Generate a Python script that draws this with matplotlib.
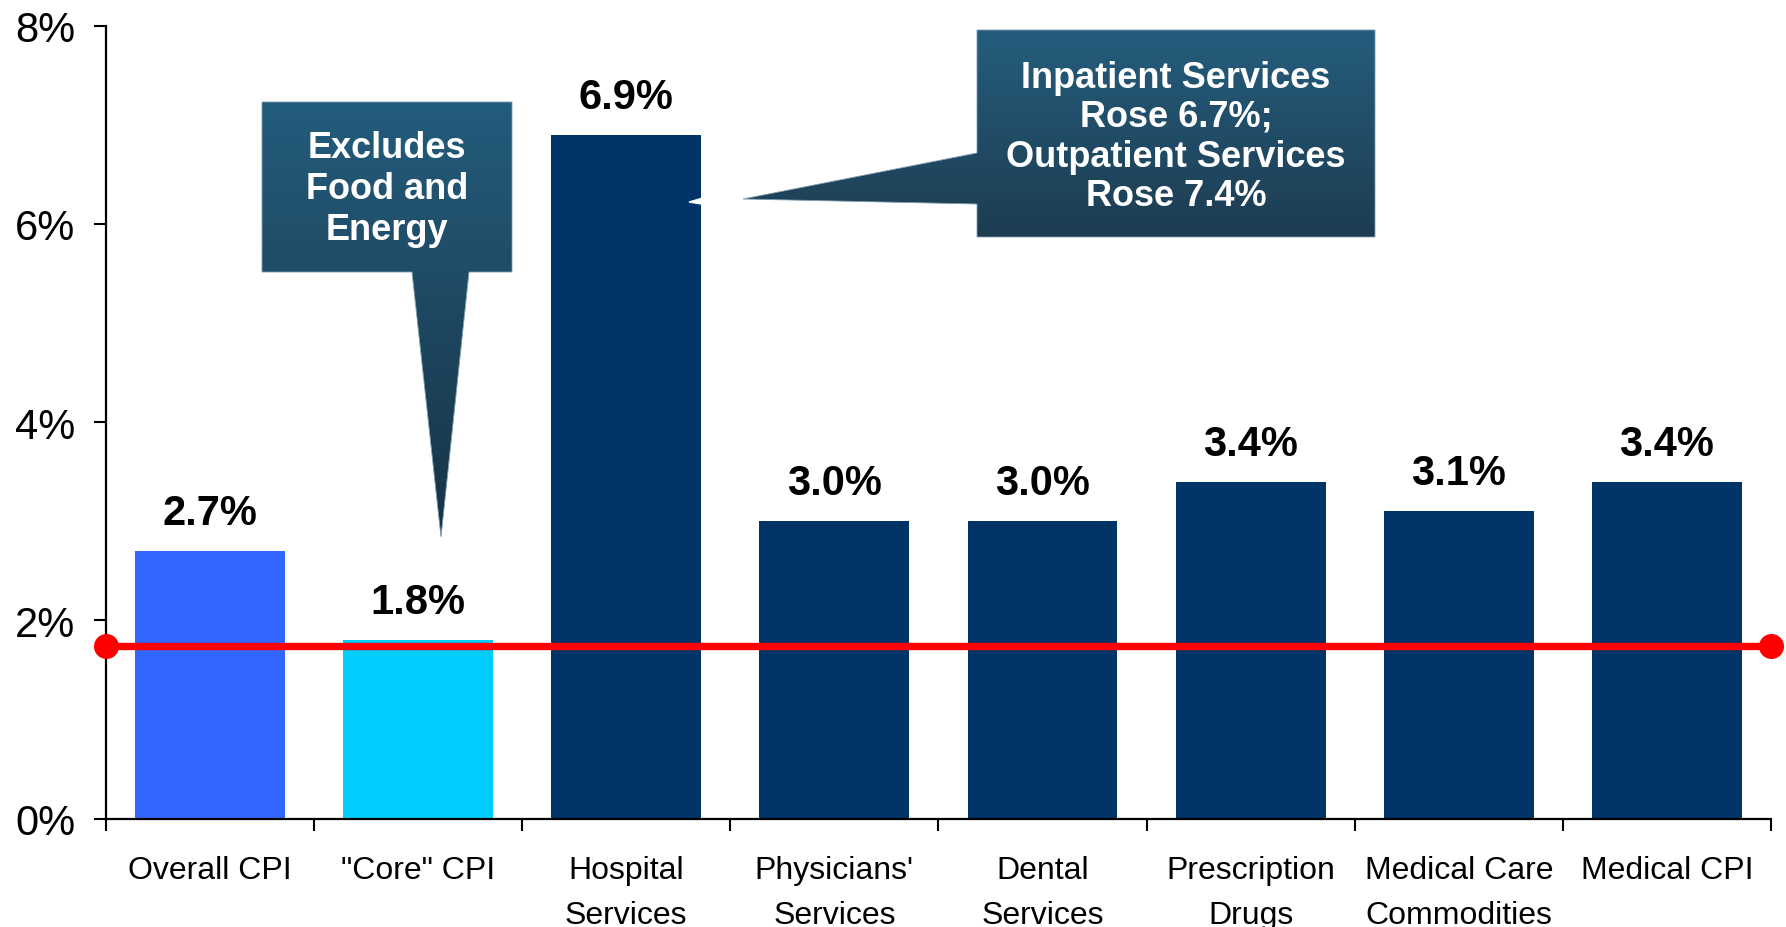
import numpy as np
import matplotlib.pyplot as plt
from matplotlib.patches import Polygon
from matplotlib.colors import LinearSegmentedColormap

# Data
categories = ['Overall CPI', '"Core" CPI', 'Hospital\nServices', "Physicians'\nServices",
              'Dental\nServices', 'Prescription\nDrugs', 'Medical Care\nCommodities', 'Medical CPI']
values = [2.7, 1.8, 6.9, 3.0, 3.0, 3.4, 3.1, 3.4]
bar_colors = ['#3366FF', '#00CCFF'] + ['#003366'] * 6
ref_level = 1.74
y_ticks = [0, 2, 4, 6, 8]
y_tick_labels = ['0%', '2%', '4%', '6%', '8%']
note_core = ['Excludes', 'Food and', 'Energy']
note_hospital = ['Inpatient Services', 'Rose 6.7%;', 'Outpatient Services', 'Rose 7.4%']

plt.rcParams['font.family'] = ['Liberation Sans', 'DejaVu Sans']

fig = plt.figure(figsize=(17.86, 9.28), dpi=100)
ax = fig.add_axes([0.0592, 0.1169, 0.9324, 0.8545])

x = np.arange(len(categories))
ax.bar(x, values, width=0.72, color=bar_colors, zorder=2)
for xi, v in zip(x, values):
    ax.text(xi, v + 0.27, f'{v:.1f}%', ha='center', va='baseline',
            fontsize=30, fontweight='bold')

# reference line with end dots
ax.plot([-0.5, 7.5], [ref_level, ref_level], color='#FF0000', lw=5.3,
        marker='o', ms=17, clip_on=False, zorder=3)

ax.set_xlim(-0.5, 7.5)
ax.set_ylim(0, 8)
ax.set_yticks(y_ticks)
ax.set_yticklabels(y_tick_labels, fontsize=30)
ax.set_xticks(x)
ax.set_xticklabels(categories, fontsize=23, linespacing=1.68)
ax.set_xticks(np.arange(-0.5, 8, 1), minor=True)
ax.tick_params(axis='x', which='major', length=0, pad=26)
ax.tick_params(axis='x', which='minor', length=8.6, width=1.5, direction='out')
ax.tick_params(axis='y', length=9, width=1.5, pad=13)
for s in ['top', 'right']:
    ax.spines[s].set_visible(False)
for s in ['left', 'bottom']:
    ax.spines[s].set_linewidth(1.6)

# overlay in pixel coords for the callouts
ov = fig.add_axes([0, 0, 1, 1], zorder=5)


def callout(verts, top, bottom):
    poly = Polygon(verts, closed=True, facecolor='none', edgecolor='#7d9db1',
                   lw=0.6, zorder=2)
    ov.add_patch(poly)
    xs = [p[0] for p in verts]
    ys = [p[1] for p in verts]
    cmap = LinearSegmentedColormap.from_list('grad', [top, bottom])
    grad = np.linspace(0, 1, 256).reshape(-1, 1)
    im = ov.imshow(grad, cmap=cmap, aspect='auto', zorder=1,
                   extent=[min(xs), max(xs), max(ys), min(ys)])
    im.set_clip_path(poly)


callout([(262, 103), (512, 103), (512, 273), (469, 273), (441, 538), (412, 273), (262, 273)],
        '#245C7C', '#173345')
callout([(977, 31), (1375, 31), (1375, 238), (977, 238), (977, 205), (743, 200), (977, 154)],
        '#255D7D', '#1D3C51')
ov.add_patch(Polygon([(689, 203), (701, 199.5), (701, 205)], color='white', zorder=3))

for txt, yb in zip(note_core, [158, 199, 240]):
    ov.text(387, yb, txt, ha='center', va='baseline', color='white',
            fontsize=26, fontweight='bold', zorder=4)
for txt, yb in zip(note_hospital, [88, 127, 167, 206]):
    ov.text(1176, yb, txt, ha='center', va='baseline', color='white',
            fontsize=26, fontweight='bold', zorder=4)

ov.set_xlim(0, 1786)
ov.set_ylim(928, 0)
ov.axis('off')

fig.savefig('out.png', dpi=100)
